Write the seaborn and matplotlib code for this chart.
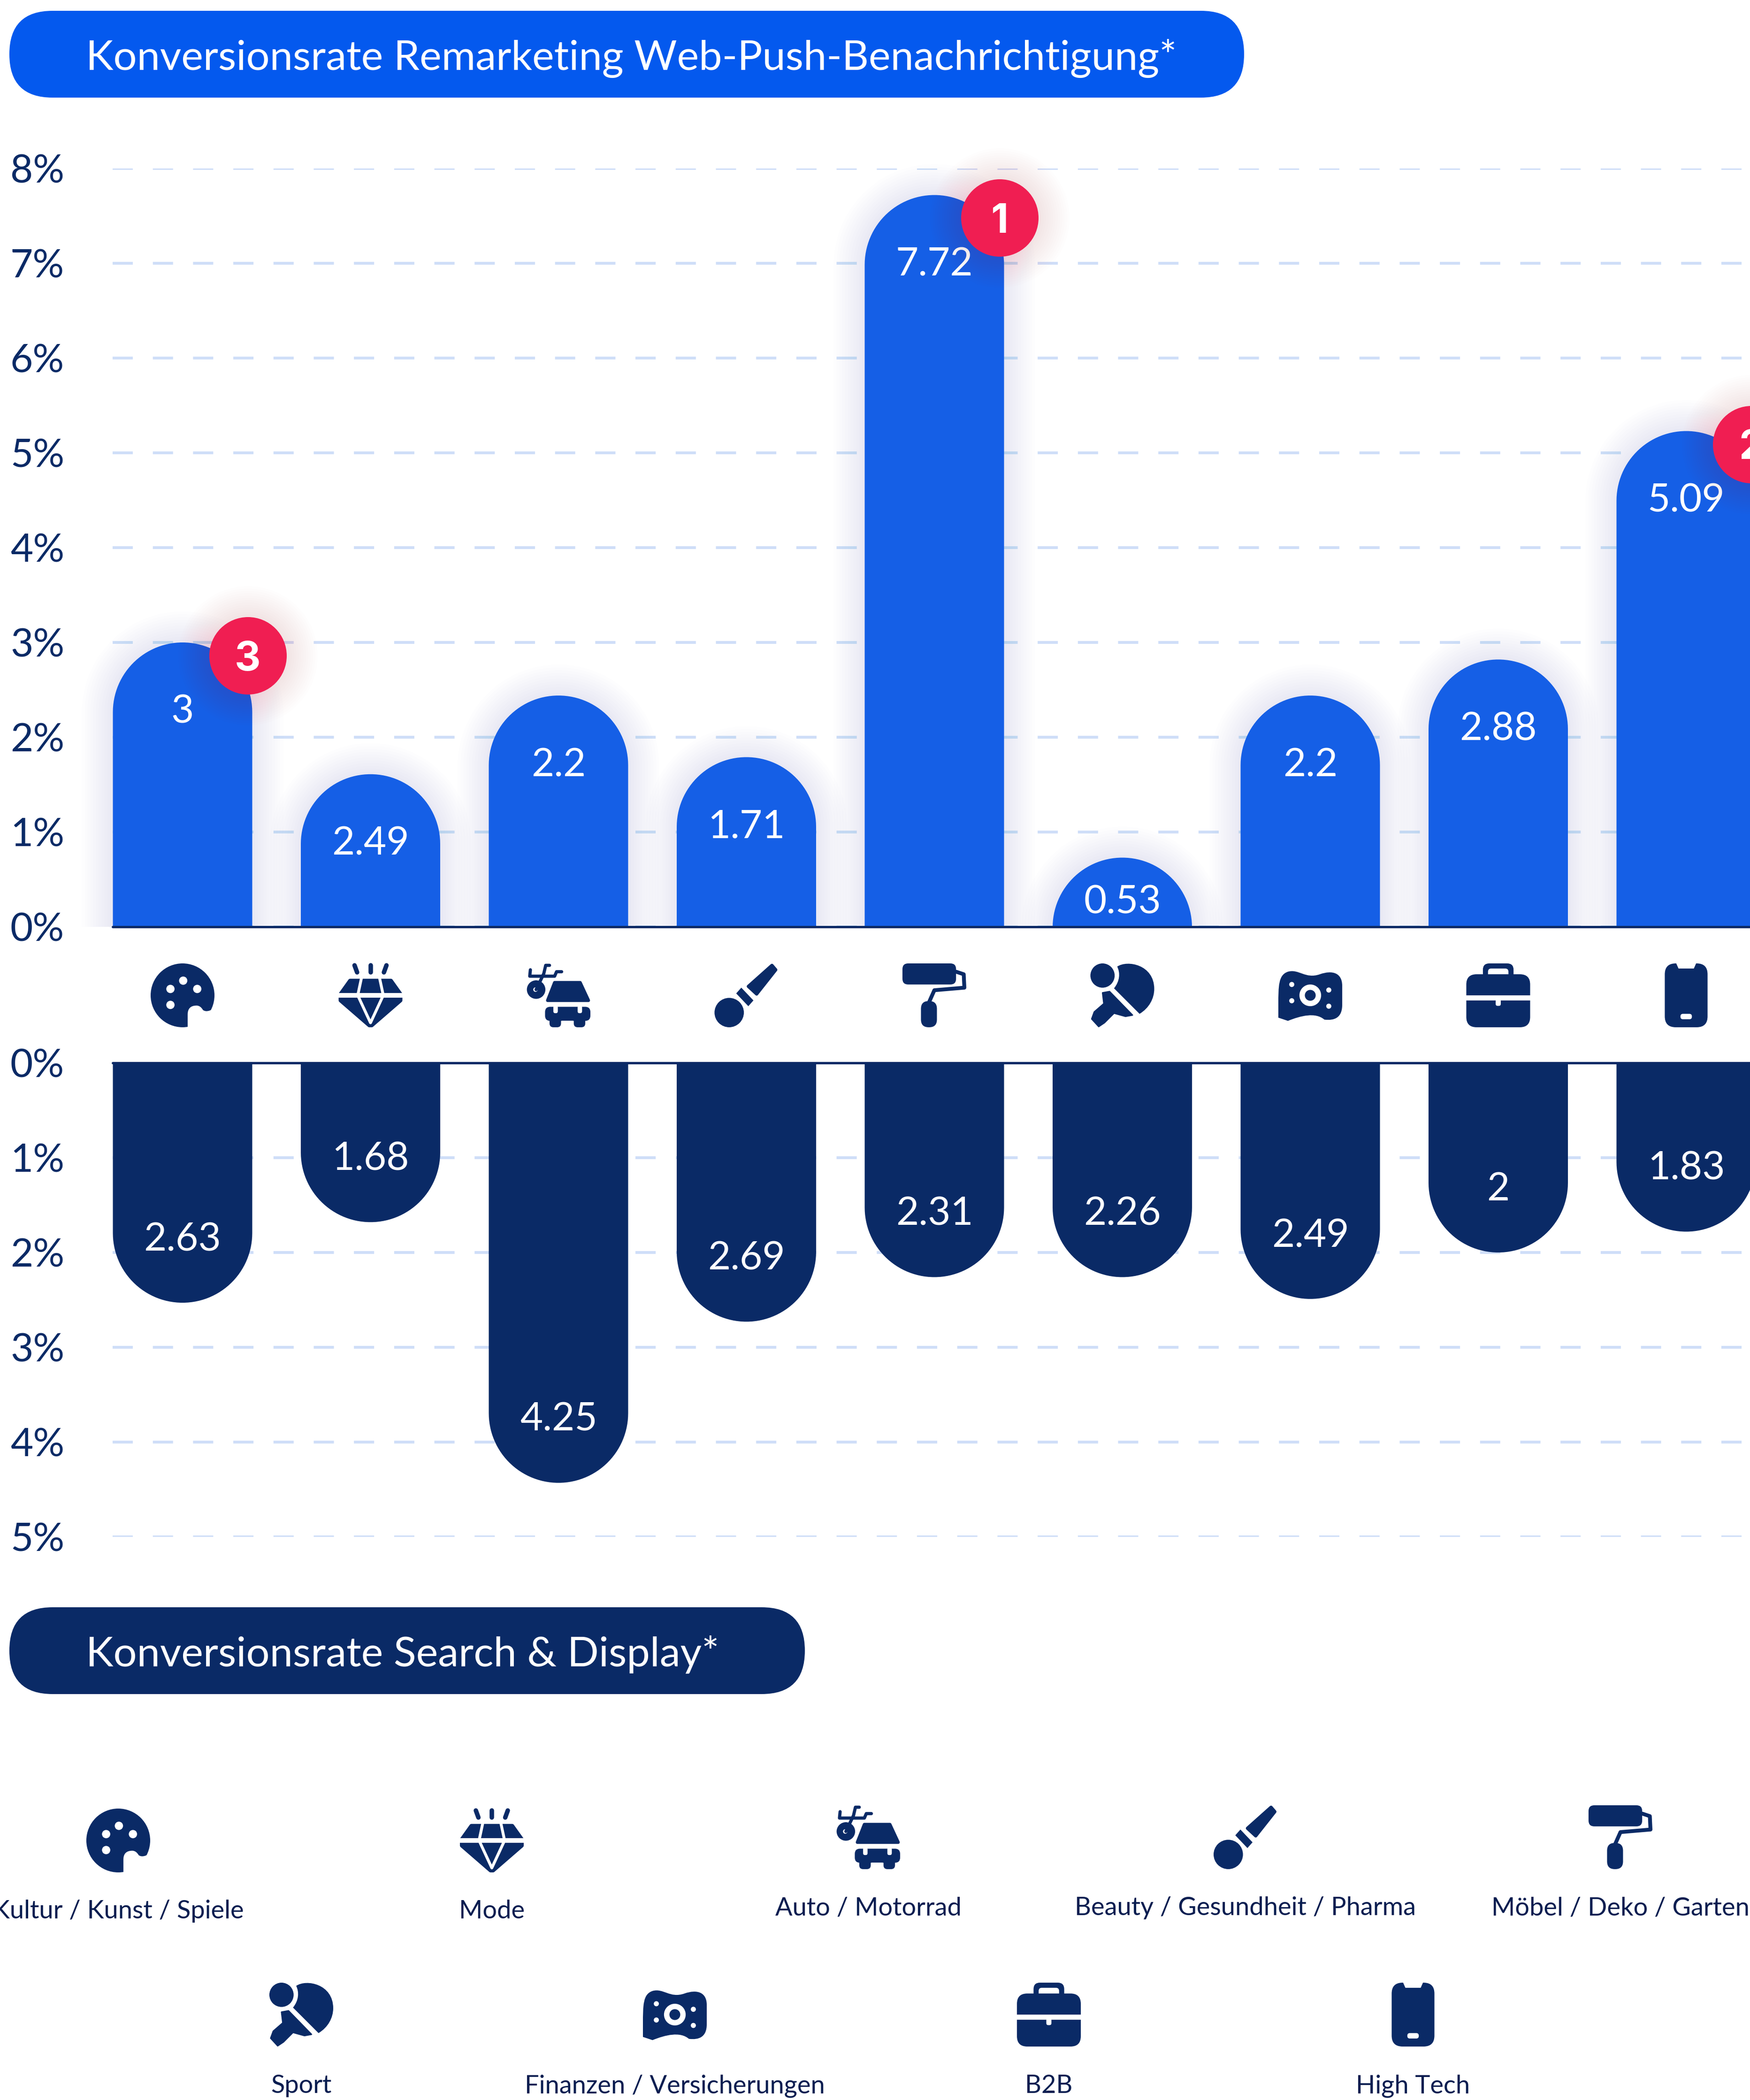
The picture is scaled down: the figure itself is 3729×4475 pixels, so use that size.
import numpy as np
import matplotlib
matplotlib.use("Agg")
import matplotlib.pyplot as plt
import seaborn as sns
from matplotlib.patches import PathPatch, FancyBboxPatch, Circle, Polygon, Rectangle
from matplotlib.path import Path
from matplotlib.transforms import Affine2D, Bbox

# data
categories = ["Kultur", "Mode", "Auto", "Beauty", "Möbel", "Sport", "Finanzen", "B2B", "High Tech"]
icons = ["palette", "diamond", "auto", "brush", "roller", "sport", "money", "case", "phone"]
top_heights = [3.0, 1.61, 2.44, 1.79, 7.72, 0.73, 2.44, 2.82, 5.23]
top_labels = ["3", "2.49", "2.2", "1.71", "7.72", "0.53", "2.2", "2.88", "5.09"]
bottom_heights = [2.53, 1.68, 4.43, 2.73, 2.26, 2.26, 2.49, 2.0, 1.78]
bottom_labels = ["2.63", "1.68", "4.25", "2.69", "2.31", "2.26", "2.49", "2", "1.83"]
badge_index = [0, 4, 8]
badge_rank = ["3", "1", "2"]
badge_values = [2.86, 7.48, 5.09]
top_ticks = [0, 1, 2, 3, 4, 5, 6, 7, 8]
bottom_ticks = [0, 1, 2, 3, 4, 5]
title_top = "Konversionsrate Remarketing Web-Push-Benachrichtigung*"
title_bottom = "Konversionsrate Search & Display*"
legend_row1 = ["Kultur / Kunst / Spiele", "Mode", "Auto / Motorrad", "Beauty / Gesundheit / Pharma", "Möbel / Deko / Garten"]
legend_row2 = ["Sport", "Finanzen / Versicherungen", "B2B", "High Tech"]

W, H = 3730, 4475
NAVY = "#0A2A66"
BLUE = "#155FE6"
PILL = "#0459EE"
RED = "#F01E52"
GRID = "#CFDEF8"
TEXT_DARK = "#081D50"
FONT = "Lato"

PX = 72 / 100.0  # one pixel in points at dpi 100
UNIT = 202.0  # pixels per 1%
PITCH = 400.5
BAR_W = 297 / PITCH
RY = 148.5 / UNIT

sns.set_theme(style="white")
plt.rcParams["font.family"] = FONT
plt.rcParams["lines.scale_dashes"] = False

fig = plt.figure(figsize=(W / 100, H / 100), dpi=100, facecolor="white")


def make_axes(y_top, y_bottom):
    return fig.add_axes([240 / W, 1 - y_bottom / H, (W - 240) / W, (y_bottom - y_top) / H])


def tip_path(x, width, h):
    # bar with half ellipse tip, looks like a semi circle on screen
    t = np.linspace(0, np.pi, 60)
    xs = x + width / 2 + np.cos(t) * width / 2
    ys = h - RY + np.sin(t) * RY
    verts = [(x + width, 0)] + list(zip(xs, ys)) + [(x, 0), (x + width, 0)]
    return Path(verts, closed=True)


def draw_panel(ax, heights, labels, color, ticks, ylim, y0, glow):
    sns.barplot(x=categories, y=heights, color=color, saturation=1, width=BAR_W, ax=ax)
    ax.set_xlim((240 - 389) / PITCH, (W - 389) / PITCH)
    ax.set_ylim(*ylim)
    ax.set_xticks([])
    ax.set_yticks(ticks)
    ax.set_yticklabels([str(t) + "%" for t in ticks], color=NAVY, fontsize=60, ha="left", family=FONT)
    ax.tick_params(axis="y", length=0, pad=218 * PX)
    ax.set_xlabel("")
    ax.set_ylabel("")
    sns.despine(ax=ax, left=True, bottom=True)
    ax.set_axisbelow(True)
    ax.grid(axis="y", color=GRID, lw=6 * PX, linestyle=(0, (43 * PX, 42.7 * PX)))
    ax.axhline(0, color=NAVY, lw=5 * PX, zorder=4, clip_on=False)

    for i, bar in enumerate(list(ax.patches)):
        x, w, h = bar.get_x(), bar.get_width(), bar.get_height()
        bar.remove()
        path = tip_path(x, w, h)
        if glow:
            for d in range(6, 72, 6):
                g = PathPatch(path, fc="none", ec=BLUE, lw=2 * d * PX, alpha=0.007, zorder=1.5, joinstyle="round")
                ax.add_patch(g)
                g.set_clip_box(Bbox([[0, H - y0], [W, H]]))
        ax.add_patch(PathPatch(path, fc=color, ec="none", zorder=3))
        label_y = max(h - 0.70, 0.29)
        ax.text(i, label_y, labels[i], color="white", fontsize=60, ha="center", va="center_baseline", family=FONT,
                zorder=5)


ax_top = make_axes(359, 1975)
draw_panel(ax_top, top_heights, top_labels, BLUE, top_ticks, (0, 8), 1975, True)

ax_bottom = make_axes(2265, 3275)
draw_panel(ax_bottom, bottom_heights, bottom_labels, NAVY, bottom_ticks, (5, 0), 2265, False)

# ranking badges
badge_x = [i + 139 / PITCH for i in badge_index]
for d in range(6, 70, 5):
    ax_top.scatter(badge_x, badge_values, s=((165 + 2 * d) * PX) ** 2, color=RED, alpha=0.009,
                   linewidths=0, zorder=5.5, clip_on=False)
ax_top.scatter(badge_x, badge_values, s=(165 * PX) ** 2, color=RED, linewidths=0, zorder=6, clip_on=False)
for bx, by, rank in zip(badge_x, badge_values, badge_rank):
    ax_top.text(bx, by, rank, color="white", fontsize=62, weight="bold", ha="center", va="center_baseline",
                family="Inter", zorder=7, clip_on=False)

# overlay in pixel coords for the pills, icons, legend
ov = fig.add_axes([0, 0, 1, 1], facecolor="none")
ov.set_xlim(0, W)
ov.set_ylim(H, 0)
ov.axis("off")


def pill(x0, y0, x1, y1, color, text):
    ov.add_patch(FancyBboxPatch((x0, y0), x1 - x0, y1 - y0, boxstyle="round,pad=0,rounding_size=%d" % ((y1 - y0) / 2),
                                fc=color, ec="none"))
    ov.text(183, (y0 + y1) / 2, text, color="white", fontsize=63.5, ha="left", va="center_baseline", family=FONT)


pill(20, 23, 2651, 208, PILL, title_top)
pill(20, 3425, 1715, 3610, NAVY, title_bottom)


def draw_icon(name, cx, cy, size=136.0):
    tr = Affine2D().scale(size).translate(cx - size / 2, cy - size / 2) + ov.transData
    lw_unit = size * PX

    def poly(pts, color=NAVY, round_px=0.0):
        ov.add_patch(Polygon(pts, closed=True, fc=color, ec=color, lw=round_px * lw_unit, joinstyle="round", transform=tr))

    def circ(x, y, r, color=NAVY):
        ov.add_patch(Circle((x, y), r, fc=color, ec="none", transform=tr))

    def stroke(pts, width, color=NAVY):
        ov.plot([p[0] for p in pts], [p[1] for p in pts], color=color, lw=width * lw_unit, transform=tr,
                solid_capstyle="round", solid_joinstyle="round")

    def rrect(x0, y0, x1, y1, r, color=NAVY):
        ov.add_patch(FancyBboxPatch((x0, y0), x1 - x0, y1 - y0, boxstyle="round,pad=0,rounding_size=%f" % r,
                                    fc=color, ec="none", transform=tr))

    def curve(verts, codes, color):
        ov.add_patch(PathPatch(Path(verts, codes), fc=color, ec="none", transform=tr))

    if name == "palette":
        circ(0.5, 0.5, 0.5)
        M, L, C = Path.MOVETO, Path.LINETO, Path.CURVE3
        curve([(0.58, 1.03), (0.58, 0.8), (0.58, 0.66), (0.72, 0.66), (0.78, 0.66), (0.82, 0.73), (0.86, 0.76),
               (0.92, 0.74), (1.03, 0.7), (1.03, 1.03), (0.58, 1.03)],
              [M, L, C, C, C, C, C, C, L, L, L], "white")
        for x, y in [(0.51, 0.27), (0.31, 0.4), (0.73, 0.4), (0.31, 0.65)]:
            circ(x, y, 0.065, "white")
    elif name == "diamond":
        stroke([(0.25, 0.03), (0.29, 0.14)], 0.07)
        stroke([(0.5, 0.03), (0.5, 0.14)], 0.07)
        stroke([(0.75, 0.03), (0.71, 0.14)], 0.07)
        poly([(0.18, 0.27), (0.82, 0.27), (0.97, 0.48), (0.97, 0.58), (0.52, 0.97), (0.48, 0.97), (0.03, 0.58), (0.03, 0.48)],
             round_px=0.06)
        stroke([(0.36, 0.22), (0.3, 0.5), (0.5, 0.93), (0.7, 0.5), (0.64, 0.22)], 0.045, "white")
        ov.add_patch(Rectangle((-0.05, 0.46), 1.1, 0.08, fc="white", ec="none", transform=tr))
    elif name == "auto":
        poly([(0.44, 0.3), (0.84, 0.3), (0.97, 0.58), (0.33, 0.58)], round_px=0.05)
        rrect(0.29, 0.68, 1.0, 0.9, 0.08)
        rrect(0.36, 0.82, 0.54, 1.0, 0.06)
        rrect(0.74, 0.82, 0.92, 1.0, 0.06)
        rrect(0.42, 0.66, 0.49, 0.78, 0.03, "white")
        rrect(0.8, 0.66, 0.87, 0.78, 0.03, "white")
        ov.add_patch(Rectangle((0.55, 0.9), 0.18, 0.14, fc="white", ec="none", transform=tr))
        circ(0.15, 0.41, 0.145)
        circ(0.14, 0.41, 0.035, "white")
        stroke([(0.15, 0.41), (0.27, 0.16), (0.3, 0.03), (0.36, 0.03)], 0.05)
        stroke([(0.06, 0.1), (0.05, 0.2), (0.26, 0.2), (0.44, 0.2), (0.47, 0.13), (0.55, 0.13)], 0.05)
    elif name == "brush":
        poly([(0.9, 0.03), (0.96, 0.1), (0.66, 0.48), (0.53, 0.36)], round_px=0.05)
        poly([(0.34, 0.47), (0.42, 0.38), (0.61, 0.58), (0.53, 0.67)])
        circ(0.23, 0.77, 0.23)
    elif name == "roller":
        rrect(0.0, 0.0, 0.84, 0.33, 0.09)
        stroke([(0.84, 0.13), (0.96, 0.17), (0.97, 0.38), (0.5, 0.42), (0.42, 0.6)], 0.06)
        rrect(0.29, 0.59, 0.54, 1.0, 0.12)
    elif name == "sport":
        circ(0.19, 0.19, 0.19)
        M, L, C = Path.MOVETO, Path.LINETO, Path.CURVE4
        curve([(0.42, 0.05), (0.58, -0.06), (1.0, 0.02), (1.0, 0.4), (1.0, 0.55), (0.92, 0.7), (0.77, 0.79),
               (0.37, 0.39), (0.46, 0.28), (0.47, 0.15), (0.42, 0.05)],
              [M, C, C, C, C, C, C, L, C, C, C], NAVY)
        poly([(0.19, 0.46), (0.3, 0.44), (0.66, 0.81), (0.55, 0.83), (0.37, 0.78), (0.22, 0.93), (0.13, 0.99),
              (0.02, 0.87), (0.06, 0.76), (0.21, 0.63)], round_px=0.02)
    elif name == "money":
        M, C, L = Path.MOVETO, Path.CURVE4, Path.LINETO
        curve([(0.15, 0.13), (0.32, 0.08), (0.42, 0.25), (0.65, 0.17), (0.85, 0.1), (1.0, 0.15), (1.0, 0.35),
               (1.0, 0.65), (1.0, 0.85), (0.88, 0.9), (0.72, 0.88), (0.58, 0.76), (0.35, 0.82),
               (0.15, 0.9), (0.0, 0.85), (0.0, 0.65), (0.0, 0.35), (0.0, 0.18), (0.15, 0.13)],
              [M, C, C, C, C, C, C, L, C, C, C, C, C, C, L, L, C, C, C], NAVY)
        circ(0.5, 0.5, 0.17, "white")
        circ(0.5, 0.5, 0.085)
        for x, y in [(0.21, 0.33), (0.21, 0.585), (0.79, 0.417), (0.79, 0.67)]:
            circ(x, y, 0.04, "white")
    elif name == "case":
        rrect(0.26, 0.0, 0.74, 0.3, 0.1)
        rrect(0.34, 0.08, 0.66, 0.3, 0.05, "white")
        rrect(0.0, 0.17, 1.0, 1.0, 0.16)
        ov.add_patch(Rectangle((-0.02, 0.5), 1.04, 0.08, fc="white", ec="none", transform=tr))
        rrect(0.46, 0.56, 0.54, 0.665, 0.03, "white")
    elif name == "phone":
        rrect(0.165, 0.0, 0.835, 1.0, 0.17)
        poly([(0.34, -0.01), (0.66, -0.01), (0.62, 0.08), (0.38, 0.08)], "white")
        rrect(0.41, 0.79, 0.59, 0.875, 0.04, "white")


bar_centers = [389 + PITCH * i for i in range(len(categories))]
for name, cx in zip(icons, bar_centers):
    draw_icon(name, cx, 2121)

row1_x = [252, 1048, 1850, 2654, 3453]
row1_icon_y = [3922, 3922, 3915, 3915, 3915]
row1_text_y = [4088, 4088, 4081, 4081, 4081]
for name, label, cx, iy, ty in zip(icons[:5], legend_row1, row1_x, row1_icon_y, row1_text_y):
    draw_icon(name, cx, iy)
    ov.text(cx, ty, label, color=TEXT_DARK, fontsize=39, ha="center", va="baseline", family=FONT)

row2_x = [642, 1438, 2235, 3011]
for name, label, cx in zip(icons[5:], legend_row2, row2_x):
    draw_icon(name, cx, 4293)
    ov.text(cx, 4460, label, color=TEXT_DARK, fontsize=39, ha="center", va="baseline", family=FONT)

fig.savefig("out.png", dpi=100, facecolor="white")
